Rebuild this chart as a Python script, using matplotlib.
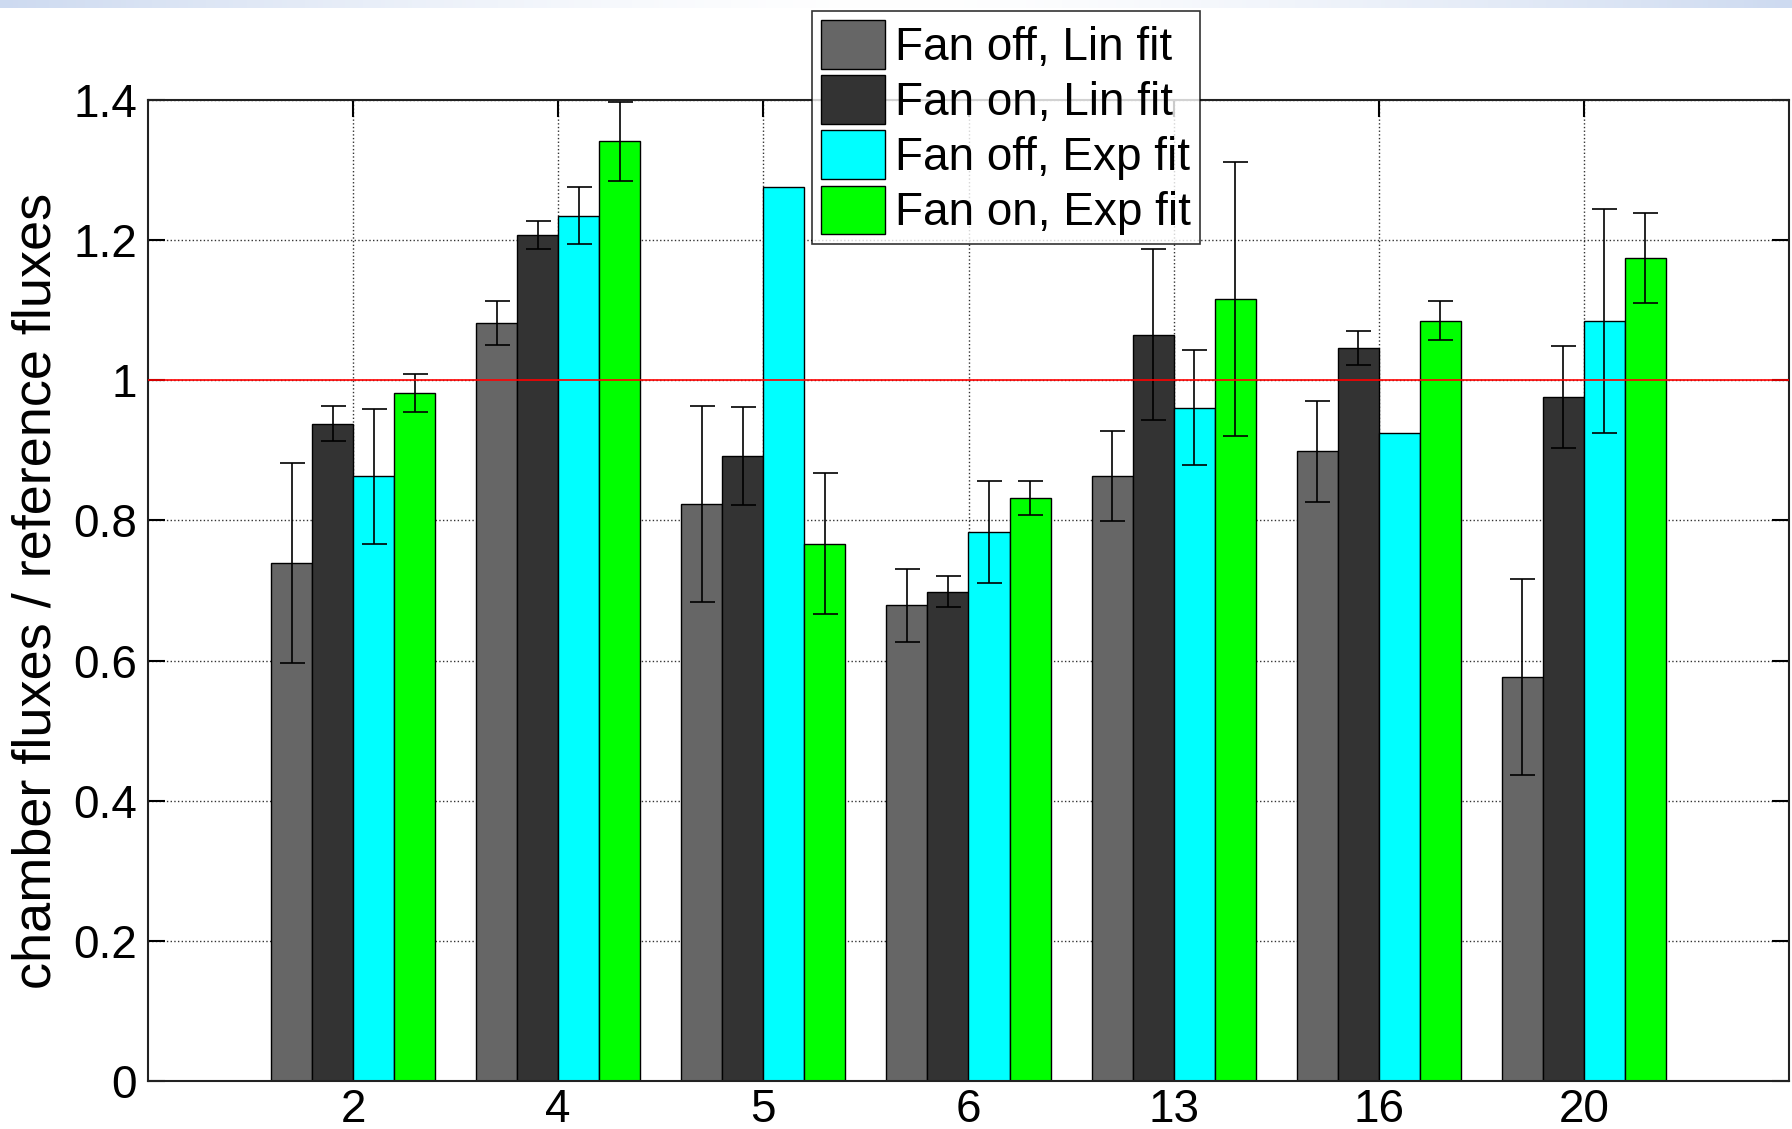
import matplotlib
matplotlib.use("Agg")
import matplotlib.pyplot as plt
import numpy as np

# ── Dados ─────────────────────────────────────────────────────────────────────

chambers = ["2", "4", "5", "6", "13", "16", "20"]
series = ["Fan off, Lin fit", "Fan on, Lin fit", "Fan off, Exp fit", "Fan on, Exp fit"]
colors = ["#666666", "#333333", "#00ffff", "#00ff00"]

off_lin = [0.739, 1.082, 0.824, 0.679, 0.863, 0.899, 0.576]
on_lin = [0.938, 1.207, 0.892, 0.698, 1.065, 1.046, 0.976]
off_exp = [0.863, 1.235, 1.276, 0.783, 0.961, 0.925, 1.085]
on_exp = [0.982, 1.341, 0.767, 0.832, 1.116, 1.085, 1.175]

off_lin_err = [0.143, 0.031, 0.140, 0.052, 0.064, 0.072, 0.140]
on_lin_err = [0.025, 0.020, 0.070, 0.022, 0.122, 0.024, 0.073]
off_exp_err = [0.096, 0.041, np.nan, 0.073, 0.082, np.nan, 0.160]
on_exp_err = [0.027, 0.056, 0.100, 0.024, 0.196, 0.028, 0.064]

reference = 1.0

# ── Figura ────────────────────────────────────────────────────────────────────

plt.rcParams["font.family"] = ["Liberation Sans", "DejaVu Sans"]

fig = plt.figure(figsize=(17.92, 11.29), dpi=100)
fig.patch.set_facecolor("white")

# faixa azulada no topo
band = fig.add_axes([0, 1 - 8 / 1129, 1, 8 / 1129])
grad = np.abs(np.linspace(-1, 1, 400)) ** 1.5
rgb = np.ones((1, 400, 3))
rgb[0, :, 0] = 1 - grad * (1 - 205 / 255)
rgb[0, :, 1] = 1 - grad * (1 - 218 / 255)
rgb[0, :, 2] = 1 - grad * (1 - 240 / 255)
band.imshow(rgb, aspect="auto", extent=[0, 1, 0, 1])
band.axis("off")

ax = fig.add_axes([148 / 1792, 1 - 1081 / 1129, (1789 - 148) / 1792, (1081 - 100) / 1129])

x = np.arange(1, len(chambers) + 1)
width = 0.2
vals = [off_lin, on_lin, off_exp, on_exp]
errs = [off_lin_err, on_lin_err, off_exp_err, on_exp_err]

for i, (v, e) in enumerate(zip(vals, errs)):
    pos = x + (i - 1.5) * width
    ax.bar(pos, v, width, color=colors[i], edgecolor="black", linewidth=1.0,
           label=series[i], zorder=2)
    ax.errorbar(pos, v, yerr=e, fmt="none", ecolor="black", elinewidth=1.2,
                capsize=9, capthick=1.2, zorder=3)

ax.axhline(reference, color="red", linewidth=1.2, zorder=4)

ax.set_xlim(0, 8)
ax.set_ylim(0, 1.4)
ax.set_xticks(x)
ax.set_xticklabels(chambers)
ax.set_yticks(np.arange(0, 1.41, 0.2))
ax.set_yticklabels(["0", "0.2", "0.4", "0.6", "0.8", "1", "1.2", "1.4"])
ax.tick_params(direction="in", length=12, width=1.5, labelsize=33,
               top=True, right=True, pad=8)
ax.tick_params(axis="x", pad=5)
ax.grid(True, linestyle=":", color="black", linewidth=1.0, alpha=0.8, zorder=0)
ax.set_axisbelow(True)
for s in ax.spines.values():
    s.set_linewidth(1.5)
    s.set_color("#222222")

ax.set_ylabel("chamber fluxes / reference fluxes", fontsize=39, labelpad=8)

leg = fig.legend(loc="upper left", bbox_to_anchor=(812 / 1792, 1 - 11 / 1129),
                 fontsize=33, frameon=True, fancybox=False, edgecolor="black",
                 handlelength=1.4, handleheight=1.25, handletextpad=0.2,
                 borderpad=0.2, labelspacing=0.12, borderaxespad=0)
leg.get_frame().set_linewidth(1.2)

fig.savefig("out.png", dpi=100, facecolor="white")
